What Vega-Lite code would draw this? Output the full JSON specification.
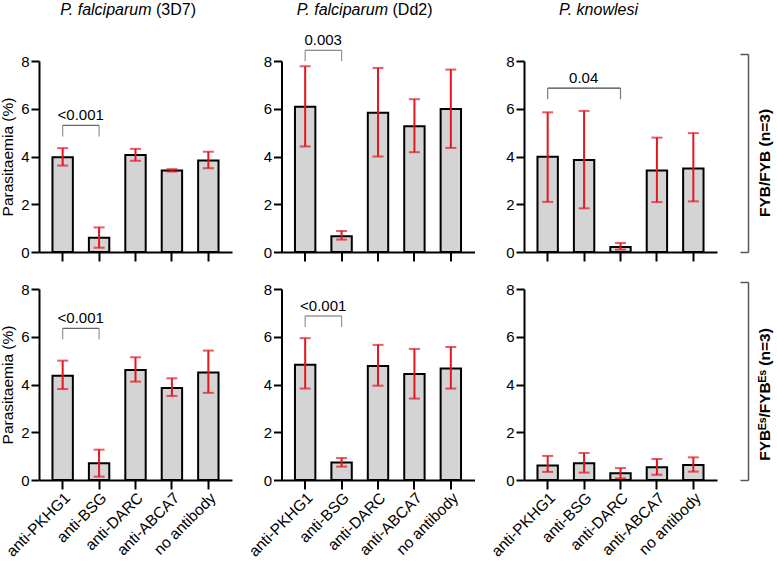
{
  "$schema": "https://vega.github.io/schema/vega-lite/v6.json",
  "padding": {"left": 0, "top": 1, "right": 1, "bottom": 1},
  "bounds": "flush",
  "columns": 3,
  "spacing": {"row": 37, "column": 49.5},
  "config": {
    "font": "Liberation Sans",
    "view": {"stroke": null},
    "axis": {"grid": false, "domainColor": "#000", "domainWidth": 2, "tickColor": "#000", "tickWidth": 2, "labelColor": "#000", "labelFontSize": 15, "titleFontSize": 15.5, "titleFontWeight": "normal", "titleColor": "#000"},
    "axisY": {"tickSize": 8, "labelPadding": 2, "titlePadding": 5},
    "axisX": {"tickSize": 9, "labelPadding": 1, "labelAngle": -45, "labelFontSize": 15.5}
  },
  "datasets": {
    "bars": [
      {"strain": "3D7", "genotype": "FYB/FYB", "antibody": "anti-PKHG1", "mean": 3.97, "lo": 3.62, "hi": 4.35},
      {"strain": "3D7", "genotype": "FYB/FYB", "antibody": "anti-BSG", "mean": 0.60, "lo": 0.18, "hi": 1.03},
      {"strain": "3D7", "genotype": "FYB/FYB", "antibody": "anti-DARC", "mean": 4.06, "lo": 3.82, "hi": 4.32},
      {"strain": "3D7", "genotype": "FYB/FYB", "antibody": "anti-ABCA7", "mean": 3.41, "lo": 3.37, "hi": 3.47},
      {"strain": "3D7", "genotype": "FYB/FYB", "antibody": "no antibody", "mean": 3.83, "lo": 3.51, "hi": 4.20},
      {"strain": "Dd2", "genotype": "FYB/FYB", "antibody": "anti-PKHG1", "mean": 6.08, "lo": 4.42, "hi": 7.78},
      {"strain": "Dd2", "genotype": "FYB/FYB", "antibody": "anti-BSG", "mean": 0.66, "lo": 0.52, "hi": 0.88},
      {"strain": "Dd2", "genotype": "FYB/FYB", "antibody": "anti-DARC", "mean": 5.83, "lo": 4.00, "hi": 7.71},
      {"strain": "Dd2", "genotype": "FYB/FYB", "antibody": "anti-ABCA7", "mean": 5.27, "lo": 4.18, "hi": 6.40},
      {"strain": "Dd2", "genotype": "FYB/FYB", "antibody": "no antibody", "mean": 5.99, "lo": 4.36, "hi": 7.64},
      {"strain": "knowlesi", "genotype": "FYB/FYB", "antibody": "anti-PKHG1", "mean": 3.99, "lo": 2.10, "hi": 5.85},
      {"strain": "knowlesi", "genotype": "FYB/FYB", "antibody": "anti-BSG", "mean": 3.85, "lo": 1.83, "hi": 5.91},
      {"strain": "knowlesi", "genotype": "FYB/FYB", "antibody": "anti-DARC", "mean": 0.21, "lo": 0.10, "hi": 0.38},
      {"strain": "knowlesi", "genotype": "FYB/FYB", "antibody": "anti-ABCA7", "mean": 3.41, "lo": 2.09, "hi": 4.79},
      {"strain": "knowlesi", "genotype": "FYB/FYB", "antibody": "no antibody", "mean": 3.50, "lo": 2.12, "hi": 4.98},
      {"strain": "3D7", "genotype": "FYBES/FYBES", "antibody": "anti-PKHG1", "mean": 4.37, "lo": 3.81, "hi": 5.00},
      {"strain": "3D7", "genotype": "FYBES/FYBES", "antibody": "anti-BSG", "mean": 0.70, "lo": 0.14, "hi": 1.27},
      {"strain": "3D7", "genotype": "FYBES/FYBES", "antibody": "anti-DARC", "mean": 4.61, "lo": 4.12, "hi": 5.14},
      {"strain": "3D7", "genotype": "FYBES/FYBES", "antibody": "anti-ABCA7", "mean": 3.85, "lo": 3.52, "hi": 4.26},
      {"strain": "3D7", "genotype": "FYBES/FYBES", "antibody": "no antibody", "mean": 4.50, "lo": 3.65, "hi": 5.42},
      {"strain": "Dd2", "genotype": "FYBES/FYBES", "antibody": "anti-PKHG1", "mean": 4.83, "lo": 3.83, "hi": 5.94},
      {"strain": "Dd2", "genotype": "FYBES/FYBES", "antibody": "anti-BSG", "mean": 0.73, "lo": 0.56, "hi": 0.92},
      {"strain": "Dd2", "genotype": "FYBES/FYBES", "antibody": "anti-DARC", "mean": 4.78, "lo": 3.95, "hi": 5.66},
      {"strain": "Dd2", "genotype": "FYBES/FYBES", "antibody": "anti-ABCA7", "mean": 4.44, "lo": 3.41, "hi": 5.49},
      {"strain": "Dd2", "genotype": "FYBES/FYBES", "antibody": "no antibody", "mean": 4.67, "lo": 3.83, "hi": 5.57},
      {"strain": "knowlesi", "genotype": "FYBES/FYBES", "antibody": "anti-PKHG1", "mean": 0.61, "lo": 0.34, "hi": 1.01},
      {"strain": "knowlesi", "genotype": "FYBES/FYBES", "antibody": "anti-BSG", "mean": 0.70, "lo": 0.31, "hi": 1.13},
      {"strain": "knowlesi", "genotype": "FYBES/FYBES", "antibody": "anti-DARC", "mean": 0.28, "lo": 0.07, "hi": 0.50},
      {"strain": "knowlesi", "genotype": "FYBES/FYBES", "antibody": "anti-ABCA7", "mean": 0.53, "lo": 0.22, "hi": 0.88},
      {"strain": "knowlesi", "genotype": "FYBES/FYBES", "antibody": "no antibody", "mean": 0.63, "lo": 0.35, "hi": 0.95}
    ],
    "brackets": [
      {"strain": "3D7", "genotype": "FYB/FYB", "from": "anti-PKHG1", "to": "anti-BSG", "y": 5.30, "label": "<0.001"},
      {"strain": "Dd2", "genotype": "FYB/FYB", "from": "anti-PKHG1", "to": "anti-BSG", "y": 8.45, "label": "0.003"},
      {"strain": "knowlesi", "genotype": "FYB/FYB", "from": "anti-PKHG1", "to": "anti-DARC", "y": 6.86, "label": "0.04"},
      {"strain": "3D7", "genotype": "FYBES/FYBES", "from": "anti-PKHG1", "to": "anti-BSG", "y": 6.35, "label": "<0.001"},
      {"strain": "Dd2", "genotype": "FYBES/FYBES", "from": "anti-PKHG1", "to": "anti-BSG", "y": 6.87, "label": "<0.001"}
    ],
    "titles": [
      {"strain": "3D7", "italic": "P. falciparum", "plain": "(3D7)"},
      {"strain": "Dd2", "italic": "P. falciparum", "plain": "(Dd2)"},
      {"strain": "knowlesi", "italic": "P. knowlesi", "plain": ""}
    ]
  },
  "concat": [
    {
      "width": 193, "height": 191,
      "layer": [
        {"data": {"name": "bars"}, "transform": [{"filter": "datum.strain === '3D7' && datum.genotype === 'FYB/FYB'"}],
         "layer": [
          {"mark": {"type": "bar", "fill": "#d4d4d4", "stroke": "#000", "strokeWidth": 2},
           "encoding": {
             "x": {"field": "antibody", "type": "nominal", "title": null, "scale": {"domain": ["anti-PKHG1", "anti-BSG", "anti-DARC", "anti-ABCA7", "no antibody"], "paddingInner": 0.44, "paddingOuter": 0.37}, "axis": {"labels": false}},
             "y": {"field": "mean", "type": "quantitative", "title": "Parasitaemia (%)", "scale": {"domain": [0, 8]}, "axis": {"values": [0, 2, 4, 6, 8]}}}},
          {"mark": {"type": "rule", "color": "#e3171f", "strokeWidth": 2},
           "encoding": {"x": {"field": "antibody", "type": "nominal", "title": null}, "y": {"field": "lo", "type": "quantitative", "title": "Parasitaemia (%)"}, "y2": {"field": "hi"}}},
          {"transform": [{"fold": ["lo", "hi"], "as": ["end", "val"]}],
           "mark": {"type": "tick", "color": "#e3171f", "thickness": 2, "size": 11},
           "encoding": {"x": {"field": "antibody", "type": "nominal", "title": null}, "y": {"field": "val", "type": "quantitative", "title": "Parasitaemia (%)"}}}
        ]},
        {"data": {"name": "brackets"}, "transform": [{"filter": "datum.strain === '3D7' && datum.genotype === 'FYB/FYB'"}],
         "layer": [
          {"mark": {"type": "rule", "color": "#666", "strokeWidth": 1.2},
           "encoding": {"x": {"field": "from", "type": "nominal", "title": null}, "x2": {"field": "to"}, "y": {"field": "y", "type": "quantitative", "title": "Parasitaemia (%)"}}},
          {"transform": [{"fold": ["from", "to"], "as": ["end", "pos"]}],
           "mark": {"type": "tick", "orient": "vertical", "color": "#666", "thickness": 1.2, "size": 11, "yOffset": 5.5},
           "encoding": {"x": {"field": "pos", "type": "nominal", "title": null}, "y": {"field": "y", "type": "quantitative", "title": "Parasitaemia (%)"}}},
          {"mark": {"type": "text", "fontSize": 15, "dx": 18, "dy": -5, "baseline": "alphabetic", "color": "#000"},
           "encoding": {"x": {"field": "from", "type": "nominal", "title": null}, "y": {"field": "y", "type": "quantitative", "title": "Parasitaemia (%)"}, "text": {"field": "label"}}}
        ]},
        {"data": {"name": "titles"}, "transform": [{"filter": "datum.strain === '3D7'"}],
         "layer": [
          {"mark": {"type": "text", "fontSize": 16, "fontStyle": "italic", "align": "right", "baseline": "alphabetic", "dx": 16, "color": "#000"},
           "encoding": {"x": {"datum": "anti-DARC", "type": "nominal", "title": null}, "y": {"datum": 9.93, "type": "quantitative", "title": "Parasitaemia (%)"}, "text": {"field": "italic"}}},
          {"mark": {"type": "text", "fontSize": 16, "align": "left", "baseline": "alphabetic", "dx": 20.5, "color": "#000"},
           "encoding": {"x": {"datum": "anti-DARC", "type": "nominal", "title": null}, "y": {"datum": 9.93, "type": "quantitative", "title": "Parasitaemia (%)"}, "text": {"field": "plain"}}}
        ]}
      ]
    },
    {
      "width": 193, "height": 191,
      "layer": [
        {"data": {"name": "bars"}, "transform": [{"filter": "datum.strain === 'Dd2' && datum.genotype === 'FYB/FYB'"}],
         "layer": [
          {"mark": {"type": "bar", "fill": "#d4d4d4", "stroke": "#000", "strokeWidth": 2},
           "encoding": {
             "x": {"field": "antibody", "type": "nominal", "title": null, "scale": {"domain": ["anti-PKHG1", "anti-BSG", "anti-DARC", "anti-ABCA7", "no antibody"], "paddingInner": 0.44, "paddingOuter": 0.37}, "axis": {"labels": false}},
             "y": {"field": "mean", "type": "quantitative", "title": null, "scale": {"domain": [0, 8]}, "axis": {"values": [0, 2, 4, 6, 8]}}}},
          {"mark": {"type": "rule", "color": "#e3171f", "strokeWidth": 2},
           "encoding": {"x": {"field": "antibody", "type": "nominal", "title": null}, "y": {"field": "lo", "type": "quantitative", "title": null}, "y2": {"field": "hi"}}},
          {"transform": [{"fold": ["lo", "hi"], "as": ["end", "val"]}],
           "mark": {"type": "tick", "color": "#e3171f", "thickness": 2, "size": 11},
           "encoding": {"x": {"field": "antibody", "type": "nominal", "title": null}, "y": {"field": "val", "type": "quantitative", "title": null}}}
        ]},
        {"data": {"name": "brackets"}, "transform": [{"filter": "datum.strain === 'Dd2' && datum.genotype === 'FYB/FYB'"}],
         "layer": [
          {"mark": {"type": "rule", "color": "#666", "strokeWidth": 1.2},
           "encoding": {"x": {"field": "from", "type": "nominal", "title": null}, "x2": {"field": "to"}, "y": {"field": "y", "type": "quantitative", "title": null}}},
          {"transform": [{"fold": ["from", "to"], "as": ["end", "pos"]}],
           "mark": {"type": "tick", "orient": "vertical", "color": "#666", "thickness": 1.2, "size": 11, "yOffset": 5.5},
           "encoding": {"x": {"field": "pos", "type": "nominal", "title": null}, "y": {"field": "y", "type": "quantitative", "title": null}}},
          {"mark": {"type": "text", "fontSize": 15, "dx": 18, "dy": -5, "baseline": "alphabetic", "color": "#000"},
           "encoding": {"x": {"field": "from", "type": "nominal", "title": null}, "y": {"field": "y", "type": "quantitative", "title": null}, "text": {"field": "label"}}}
        ]},
        {"data": {"name": "titles"}, "transform": [{"filter": "datum.strain === 'Dd2'"}],
         "layer": [
          {"mark": {"type": "text", "fontSize": 16, "fontStyle": "italic", "align": "right", "baseline": "alphabetic", "dx": 10, "color": "#000"},
           "encoding": {"x": {"datum": "anti-DARC", "type": "nominal", "title": null}, "y": {"datum": 9.93, "type": "quantitative", "title": null}, "text": {"field": "italic"}}},
          {"mark": {"type": "text", "fontSize": 16, "align": "left", "baseline": "alphabetic", "dx": 14.5, "color": "#000"},
           "encoding": {"x": {"datum": "anti-DARC", "type": "nominal", "title": null}, "y": {"datum": 9.93, "type": "quantitative", "title": null}, "text": {"field": "plain"}}}
        ]}
      ]
    },
    {
      "width": 193, "height": 191,
      "layer": [
        {"layer": [
          {"data": {"name": "bars"}, "transform": [{"filter": "datum.strain === 'knowlesi' && datum.genotype === 'FYB/FYB'"}],
           "layer": [
            {"mark": {"type": "bar", "fill": "#d4d4d4", "stroke": "#000", "strokeWidth": 2},
             "encoding": {
               "x": {"field": "antibody", "type": "nominal", "title": null, "scale": {"domain": ["anti-PKHG1", "anti-BSG", "anti-DARC", "anti-ABCA7", "no antibody"], "paddingInner": 0.44, "paddingOuter": 0.37}, "axis": {"labels": false}},
               "y": {"field": "mean", "type": "quantitative", "title": null, "scale": {"domain": [0, 8]}, "axis": {"values": [0, 2, 4, 6, 8]}}}},
            {"mark": {"type": "rule", "color": "#e3171f", "strokeWidth": 2},
             "encoding": {"x": {"field": "antibody", "type": "nominal", "title": null}, "y": {"field": "lo", "type": "quantitative", "title": null}, "y2": {"field": "hi"}}},
            {"transform": [{"fold": ["lo", "hi"], "as": ["end", "val"]}],
             "mark": {"type": "tick", "color": "#e3171f", "thickness": 2, "size": 11},
             "encoding": {"x": {"field": "antibody", "type": "nominal", "title": null}, "y": {"field": "val", "type": "quantitative", "title": null}}}
          ]},
          {"data": {"name": "brackets"}, "transform": [{"filter": "datum.strain === 'knowlesi' && datum.genotype === 'FYB/FYB'"}],
           "layer": [
            {"mark": {"type": "rule", "color": "#444", "strokeWidth": 1.2},
             "encoding": {"x": {"field": "from", "type": "nominal", "title": null}, "x2": {"field": "to"}, "y": {"field": "y", "type": "quantitative", "title": null}}},
            {"transform": [{"fold": ["from", "to"], "as": ["end", "pos"]}],
             "mark": {"type": "tick", "orient": "vertical", "color": "#444", "thickness": 1.2, "size": 11, "yOffset": 5.5},
             "encoding": {"x": {"field": "pos", "type": "nominal", "title": null}, "y": {"field": "y", "type": "quantitative", "title": null}}},
            {"mark": {"type": "text", "fontSize": 15, "dx": 36, "dy": -5, "baseline": "alphabetic", "color": "#000"},
             "encoding": {"x": {"field": "from", "type": "nominal", "title": null}, "y": {"field": "y", "type": "quantitative", "title": null}, "text": {"field": "label"}}}
          ]},
          {"data": {"name": "titles"}, "transform": [{"filter": "datum.strain === 'knowlesi'"}],
           "mark": {"type": "text", "fontSize": 16, "fontStyle": "italic", "align": "center", "baseline": "alphabetic", "dx": -22, "color": "#000"},
           "encoding": {"x": {"datum": "anti-DARC", "type": "nominal", "title": null}, "y": {"datum": 9.93, "type": "quantitative", "title": null}, "text": {"field": "italic"}}}
        ]},
        {"data": {"name": "titles"}, "transform": [{"filter": "datum.strain === 'knowlesi'"}],
         "mark": {"type": "rule", "opacity": 0},
         "encoding": {"y": {"datum": 0, "type": "quantitative", "scale": {"domain": [0, 8], "range": [191, -7]},
           "axis": {"title": "FYB/FYB (n=3)", "orient": "right", "offset": 31, "values": [0, 8], "labels": false, "tickSize": -8, "tickColor": "#555", "tickWidth": 1.5, "domainColor": "#555", "domainWidth": 1.5, "titleFontWeight": "bold", "titleFontSize": 15.5, "titleAngle": 270, "titleBaseline": "top", "titlePadding": 9, "titleY": 101.5}}}}
      ],
      "resolve": {"scale": {"y": "independent"}}
    },
    {
      "width": 193, "height": 191,
      "layer": [
        {"data": {"name": "bars"}, "transform": [{"filter": "datum.strain === '3D7' && datum.genotype === 'FYBES/FYBES'"}],
         "layer": [
          {"mark": {"type": "bar", "fill": "#d4d4d4", "stroke": "#000", "strokeWidth": 2},
           "encoding": {
             "x": {"field": "antibody", "type": "nominal", "title": null, "scale": {"domain": ["anti-PKHG1", "anti-BSG", "anti-DARC", "anti-ABCA7", "no antibody"], "paddingInner": 0.44, "paddingOuter": 0.37}},
             "y": {"field": "mean", "type": "quantitative", "title": "Parasitaemia (%)", "scale": {"domain": [0, 8]}, "axis": {"values": [0, 2, 4, 6, 8]}}}},
          {"mark": {"type": "rule", "color": "#e3171f", "strokeWidth": 2},
           "encoding": {"x": {"field": "antibody", "type": "nominal", "title": null}, "y": {"field": "lo", "type": "quantitative", "title": "Parasitaemia (%)"}, "y2": {"field": "hi"}}},
          {"transform": [{"fold": ["lo", "hi"], "as": ["end", "val"]}],
           "mark": {"type": "tick", "color": "#e3171f", "thickness": 2, "size": 11},
           "encoding": {"x": {"field": "antibody", "type": "nominal", "title": null}, "y": {"field": "val", "type": "quantitative", "title": "Parasitaemia (%)"}}}
        ]},
        {"data": {"name": "brackets"}, "transform": [{"filter": "datum.strain === '3D7' && datum.genotype === 'FYBES/FYBES'"}],
         "layer": [
          {"mark": {"type": "rule", "color": "#666", "strokeWidth": 1.2},
           "encoding": {"x": {"field": "from", "type": "nominal", "title": null}, "x2": {"field": "to"}, "y": {"field": "y", "type": "quantitative", "title": "Parasitaemia (%)"}}},
          {"transform": [{"fold": ["from", "to"], "as": ["end", "pos"]}],
           "mark": {"type": "tick", "orient": "vertical", "color": "#666", "thickness": 1.2, "size": 11, "yOffset": 5.5},
           "encoding": {"x": {"field": "pos", "type": "nominal", "title": null}, "y": {"field": "y", "type": "quantitative", "title": "Parasitaemia (%)"}}},
          {"mark": {"type": "text", "fontSize": 15, "dx": 18, "dy": -5, "baseline": "alphabetic", "color": "#000"},
           "encoding": {"x": {"field": "from", "type": "nominal", "title": null}, "y": {"field": "y", "type": "quantitative", "title": "Parasitaemia (%)"}, "text": {"field": "label"}}}
        ]}
      ]
    },
    {
      "width": 193, "height": 191,
      "layer": [
        {"data": {"name": "bars"}, "transform": [{"filter": "datum.strain === 'Dd2' && datum.genotype === 'FYBES/FYBES'"}],
         "layer": [
          {"mark": {"type": "bar", "fill": "#d4d4d4", "stroke": "#000", "strokeWidth": 2},
           "encoding": {
             "x": {"field": "antibody", "type": "nominal", "title": null, "scale": {"domain": ["anti-PKHG1", "anti-BSG", "anti-DARC", "anti-ABCA7", "no antibody"], "paddingInner": 0.44, "paddingOuter": 0.37}},
             "y": {"field": "mean", "type": "quantitative", "title": null, "scale": {"domain": [0, 8]}, "axis": {"values": [0, 2, 4, 6, 8]}}}},
          {"mark": {"type": "rule", "color": "#e3171f", "strokeWidth": 2},
           "encoding": {"x": {"field": "antibody", "type": "nominal", "title": null}, "y": {"field": "lo", "type": "quantitative", "title": null}, "y2": {"field": "hi"}}},
          {"transform": [{"fold": ["lo", "hi"], "as": ["end", "val"]}],
           "mark": {"type": "tick", "color": "#e3171f", "thickness": 2, "size": 11},
           "encoding": {"x": {"field": "antibody", "type": "nominal", "title": null}, "y": {"field": "val", "type": "quantitative", "title": null}}}
        ]},
        {"data": {"name": "brackets"}, "transform": [{"filter": "datum.strain === 'Dd2' && datum.genotype === 'FYBES/FYBES'"}],
         "layer": [
          {"mark": {"type": "rule", "color": "#666", "strokeWidth": 1.2},
           "encoding": {"x": {"field": "from", "type": "nominal", "title": null}, "x2": {"field": "to"}, "y": {"field": "y", "type": "quantitative", "title": null}}},
          {"transform": [{"fold": ["from", "to"], "as": ["end", "pos"]}],
           "mark": {"type": "tick", "orient": "vertical", "color": "#666", "thickness": 1.2, "size": 11, "yOffset": 5.5},
           "encoding": {"x": {"field": "pos", "type": "nominal", "title": null}, "y": {"field": "y", "type": "quantitative", "title": null}}},
          {"mark": {"type": "text", "fontSize": 15, "dx": 18, "dy": -5, "baseline": "alphabetic", "color": "#000"},
           "encoding": {"x": {"field": "from", "type": "nominal", "title": null}, "y": {"field": "y", "type": "quantitative", "title": null}, "text": {"field": "label"}}}
        ]}
      ]
    },
    {
      "width": 193, "height": 191,
      "layer": [
        {"data": {"name": "bars"}, "transform": [{"filter": "datum.strain === 'knowlesi' && datum.genotype === 'FYBES/FYBES'"}],
         "layer": [
          {"mark": {"type": "bar", "fill": "#d4d4d4", "stroke": "#000", "strokeWidth": 2},
           "encoding": {
             "x": {"field": "antibody", "type": "nominal", "title": null, "scale": {"domain": ["anti-PKHG1", "anti-BSG", "anti-DARC", "anti-ABCA7", "no antibody"], "paddingInner": 0.44, "paddingOuter": 0.37}},
             "y": {"field": "mean", "type": "quantitative", "title": null, "scale": {"domain": [0, 8]}, "axis": {"values": [0, 2, 4, 6, 8]}}}},
          {"mark": {"type": "rule", "color": "#e3171f", "strokeWidth": 2},
           "encoding": {"x": {"field": "antibody", "type": "nominal", "title": null}, "y": {"field": "lo", "type": "quantitative", "title": null}, "y2": {"field": "hi"}}},
          {"transform": [{"fold": ["lo", "hi"], "as": ["end", "val"]}],
           "mark": {"type": "tick", "color": "#e3171f", "thickness": 2, "size": 11},
           "encoding": {"x": {"field": "antibody", "type": "nominal", "title": null}, "y": {"field": "val", "type": "quantitative", "title": null}}}
        ]},
        {"data": {"name": "titles"}, "transform": [{"filter": "datum.strain === 'knowlesi'"}],
         "mark": {"type": "rule", "opacity": 0},
         "encoding": {"y": {"datum": 0, "type": "quantitative", "scale": {"domain": [0, 8], "range": [191, -7]},
           "axis": {"title": "FYBᴱˢ/FYBᴱˢ (n=3)", "orient": "right", "offset": 31, "values": [0, 8], "labels": false, "tickSize": -8, "tickColor": "#555", "tickWidth": 1.5, "domainColor": "#555", "domainWidth": 1.5, "titleFontWeight": "bold", "titleFontSize": 15.5, "titleAngle": 270, "titleBaseline": "top", "titlePadding": 9, "titleY": 105}}}}
      ],
      "resolve": {"scale": {"y": "independent"}}
    }
  ]
}
